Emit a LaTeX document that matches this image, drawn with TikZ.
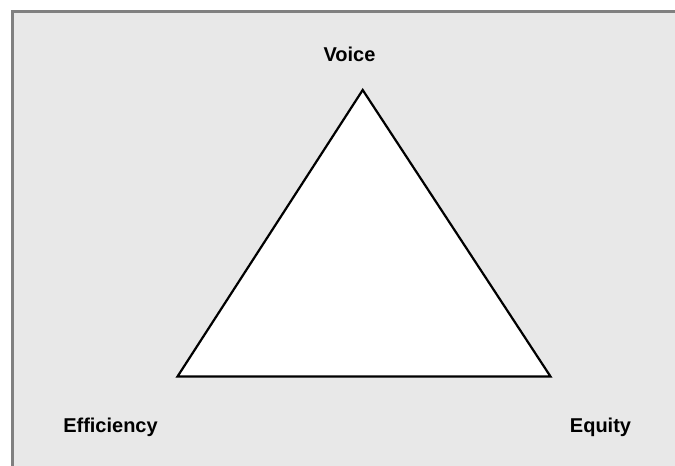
\documentclass[tikz,border=0pt]{standalone}
\usepackage{fontspec}
\setmainfont{Liberation Sans}
\definecolor{panelfill}{RGB}{232,232,232}
\definecolor{panelrule}{RGB}{128,128,128}
\begin{document}
\begin{tikzpicture}[x=1pt,y=-1pt,
  label text/.style={inner sep=0pt, anchor=base, font=\fontsize{20}{24}\selectfont\bfseries},
  triangle edge/.style={draw=black, line width=2.2pt, fill=white, line join=miter}]
  \useasboundingbox (0,0) rectangle (675,466);
  % panel with a rule along its top and left edges
  \fill[panelfill] (12.2,11.3) rectangle (675,466);
  \draw[panelrule, line width=2.6pt] (12.2,466) -- (12.2,11.3) -- (675,11.3);
  % corners of the triangle
  \coordinate (top) at (362.7,90);
  \coordinate (left) at (177.5,376.5);
  \coordinate (right) at (550.5,376.5);
  \path[triangle edge] (top) -- (right) -- (left) -- cycle;
  % corner labels
  \node[label text] (voice) at (349.5,61.5) {Voice};
  \node[label text] (efficiency) at (110.5,432.7) {Efficiency};
  \node[label text] (equity) at (600.5,432.7) {Equity};
\end{tikzpicture}
\end{document}
